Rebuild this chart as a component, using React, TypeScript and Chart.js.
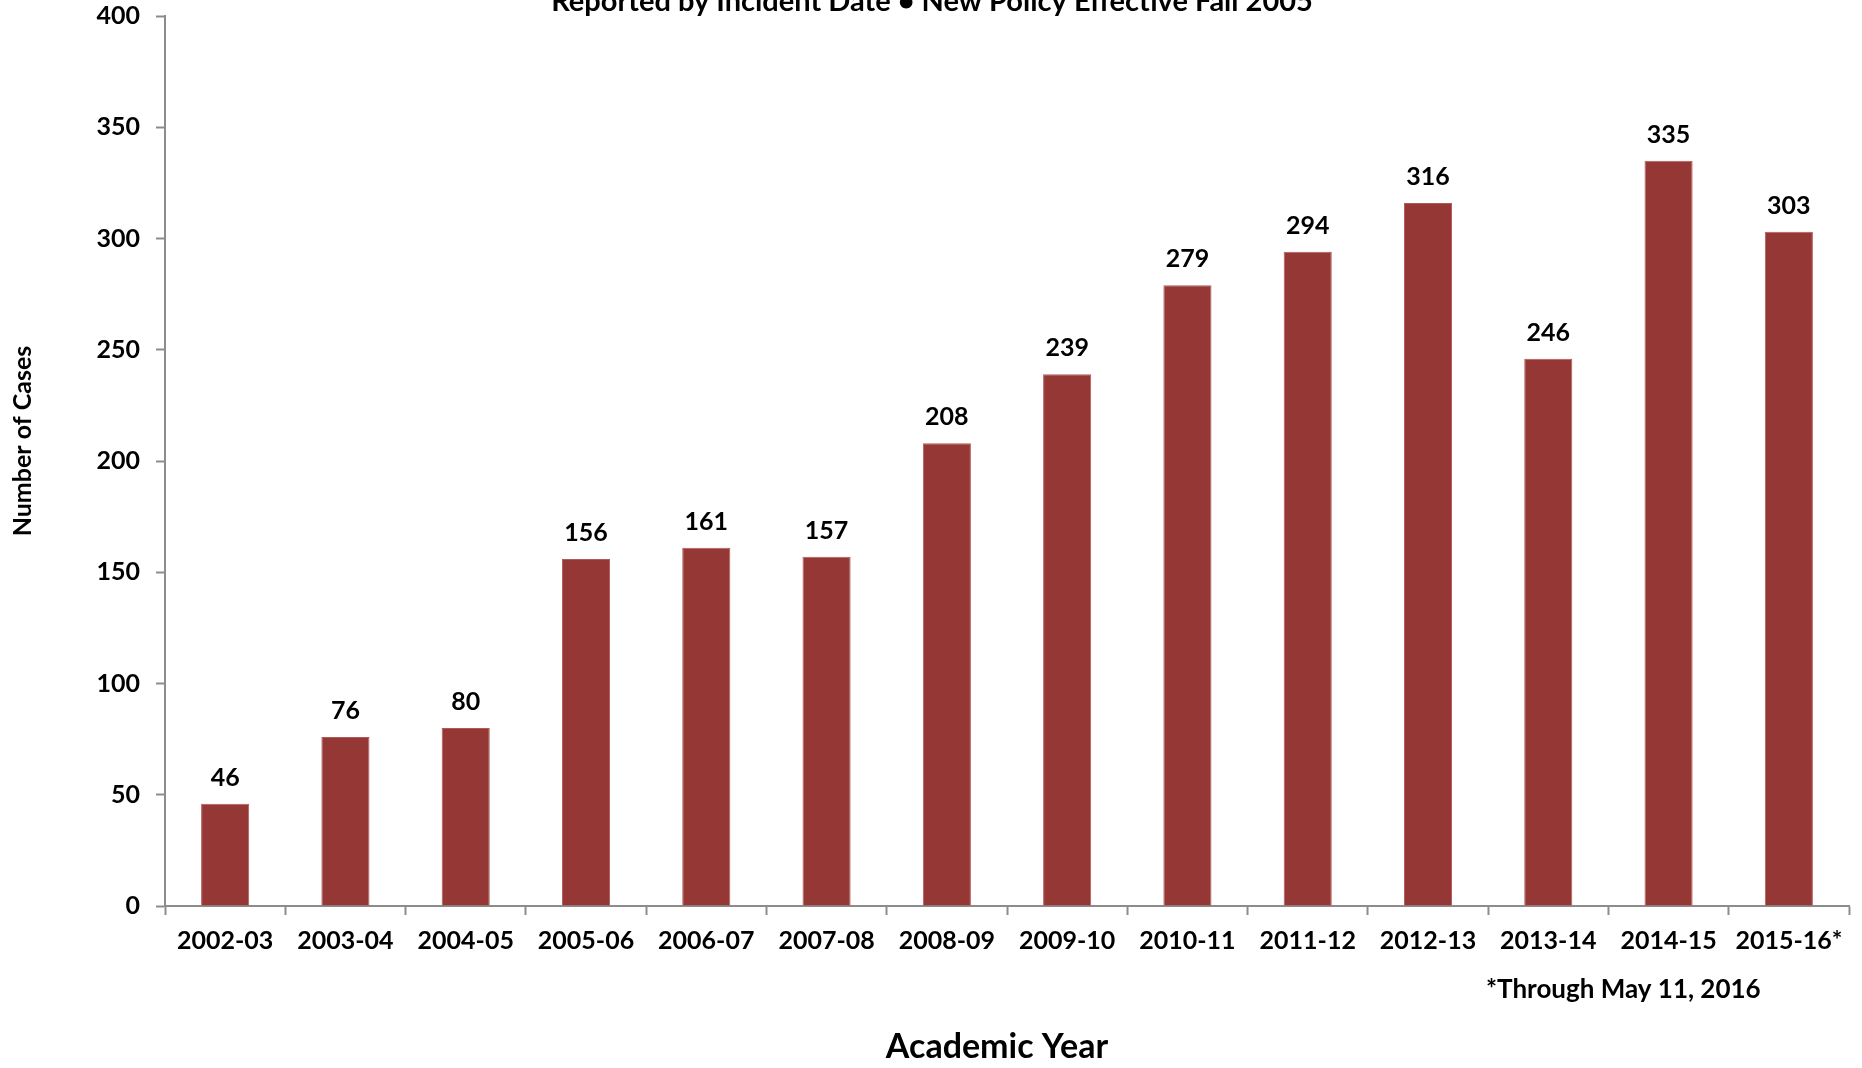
import React, { useEffect, useRef } from "react";
import { Chart, registerables } from "chart.js";

Chart.register(...registerables);

const categories = [
  "2002-03", "2003-04", "2004-05", "2005-06", "2006-07", "2007-08", "2008-09",
  "2009-10", "2010-11", "2011-12", "2012-13", "2013-14", "2014-15", "2015-16*",
];
const cases = [46, 76, 80, 156, 161, 157, 208, 239, 279, 294, 316, 246, 335, 303];
const subtitleText = "Reported by Incident Date \u2022 New Policy Effective Fall 2005";
const xTitleText = "Academic Year";
const yTitleText = "Number of Cases";
const footnoteText = "*Through May 11, 2016";

const FONT = "Lato, 'Liberation Sans', sans-serif";
const AXIS = "#8c8c8c";

export default function App() {
  const ref = useRef<HTMLCanvasElement | null>(null);
  useEffect(() => {
    document.body.style.margin = "0";
    const canvas = ref.current;
    if (!canvas) return;
    const textPlugin = {
      id: "texts",
      afterDraw(chart: any) {
        const { ctx } = chart;
        ctx.save();
        ctx.fillStyle = "#000";
        ctx.textAlign = "center";
        ctx.textBaseline = "alphabetic";
        ctx.font = `bold 29px ${FONT}`;
        ctx.fillText(subtitleText, 932, 11);
        ctx.font = `bold 34px ${FONT}`;
        ctx.fillText(xTitleText, 997, 1058);
        ctx.font = `bold 26px ${FONT}`;
        ctx.textAlign = "left";
        ctx.fillText(footnoteText, 1486, 998);
        ctx.save();
        ctx.translate(31, 441);
        ctx.rotate(-Math.PI / 2);
        ctx.textAlign = "center";
        ctx.font = `bold 25px ${FONT}`;
        ctx.fillText(yTitleText, 0, 0);
        ctx.restore();
        // data labels
        const meta = chart.getDatasetMeta(0);
        ctx.font = `bold 25px ${FONT}`;
        ctx.textAlign = "center";
        ctx.textBaseline = "middle";
        meta.data.forEach((el: any, i: number) => {
          ctx.fillText(String(cases[i]), el.x, el.y - 26);
        });
        ctx.restore();
      },
    };
    const chart = new Chart(canvas, {
      type: "bar",
      data: {
        labels: categories,
        datasets: [
          {
            data: cases,
            backgroundColor: "#953735",
            borderColor: "#b05a58",
            borderWidth: 1,
            barPercentage: 0.4,
            categoryPercentage: 1,
          },
        ],
      },
      options: {
        animation: false,
        responsive: false,
        maintainAspectRatio: false,
        devicePixelRatio: 1,
        layout: { padding: { left: 0, right: 13, top: 16, bottom: 0 } },
        plugins: { legend: { display: false }, tooltip: { enabled: false }, title: { display: false } },
        scales: {
          x: {
            grid: {
              display: true,
              drawOnChartArea: false,
              drawTicks: true,
              tickLength: 9,
              tickColor: AXIS,
              tickWidth: 2,
              offset: true,
            },
            border: { display: true, color: AXIS, width: 2 },
            ticks: {
              color: "#000",
              font: { family: FONT, size: 25, weight: "bold" },
              padding: 11,
              maxRotation: 0,
              autoSkip: false,
            },
            afterFit(scale: any) {
              scale.height = 162;
              scale.paddingLeft = 0;
              scale.paddingRight = 0;
            },
          },
          y: {
            min: 0,
            max: 400,
            ticks: {
              stepSize: 50,
              color: "#000",
              font: { family: FONT, size: 25, weight: "bold" },
              padding: 16,
            },
            grid: {
              display: true,
              drawOnChartArea: false,
              drawTicks: true,
              tickLength: 9,
              tickColor: AXIS,
              tickWidth: 2,
            },
            border: { display: true, color: AXIS, width: 2 },
            afterFit(scale: any) {
              scale.width = 165;
              scale.paddingTop = 0;
              scale.paddingBottom = 0;
            },
          },
        },
      },
      plugins: [textPlugin],
    });
    return () => chart.destroy();
  }, []);
  return (
    <div style={{ width: 1862, height: 1068, background: "#fff" }}>
      <canvas ref={ref} width={1862} height={1068} style={{ display: "block" }} />
    </div>
  );
}
